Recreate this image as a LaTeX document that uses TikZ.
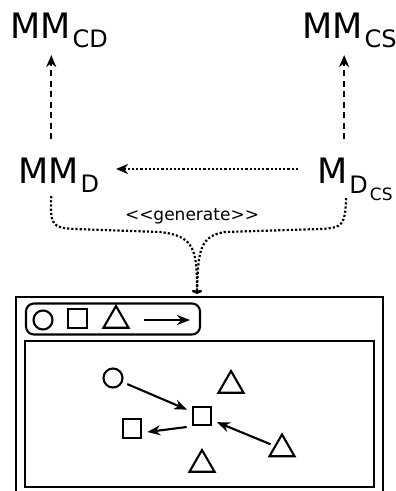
\documentclass[tikz,border=0pt]{standalone}
\usepackage{fontspec}
\setmainfont{DejaVu Sans}
\usetikzlibrary{arrows.meta,shapes.geometric}
\begin{document}
\begin{tikzpicture}[x=1pt,y=-1pt, line width=2.1pt,
  big/.style={inner sep=0pt, anchor=base west, font=\fontsize{35}{42}\selectfont},
  subA/.style={inner sep=0pt, anchor=base west, font=\fontsize{24}{28}\selectfont},
  subB/.style={inner sep=0pt, anchor=base west, font=\fontsize{17}{20}\selectfont},
  dasharrow/.style={line width=2pt, dash pattern=on 6pt off 4.5pt, -{Stealth[length=12pt,width=10pt]}},
  dotline/.style={dash pattern=on 2.2pt off 2pt, line width=2.2pt},
  shp/.style={draw, line width=2.1pt, inner sep=0pt},
  sq/.style={shp, rectangle, minimum size=18.5pt},
  circ/.style={shp, circle, minimum size=19pt},
  tri/.style={shp, regular polygon, regular polygon sides=3, minimum size=29pt},
  arr/.style={line width=2.1pt, -{Stealth[length=13pt,width=10pt]}},
]
\useasboundingbox (0,0) rectangle (396,491);

% labels
\node[big] (mmcd) at (9,38) {MM};
\node[subA] (mmcds) at ([yshift=-9pt]mmcd.base east) {CD};
\node[big] (mmcs) at (301,38) {MM};
\node[subA] (mmcss) at ([yshift=-9pt]mmcs.base east) {CS};
\node[big] (mmd) at (17,183) {MM};
\node[subA] (mmds) at ([yshift=-9pt]mmd.base east) {D};
\node[big] (mdcs) at (316,183) {M};
\node[subA] (mdcsd) at ([yshift=-10pt]mdcs.base east) {D};
\node[subB] (mdcscs) at ([yshift=-7pt]mdcsd.base east) {CS};
\node[font=\fontsize{17}{20}\selectfont, inner sep=0pt] (gen) at (192,216) {<{}<generate>{}>};

% dashed arrows up
\draw[dasharrow] ([xshift=3pt,yshift=17pt]mmd.north) -- ([xshift=3pt,yshift=-16pt]mmd.north |- mmcd.south);
\draw[dasharrow] ([xshift=12pt,yshift=17pt]mdcs.north) -- ([xshift=12pt,yshift=-16pt]mdcs.north |- mmcs.south);

% dotted horizontal
\draw[dotline, -{Stealth[length=12pt,width=10pt]}] ([xshift=-18pt,yshift=14pt]mdcs.base west) -- ([xshift=16pt,yshift=14pt]mmds.east |- mdcs.base west);

% generate curves
\coordinate (tgt) at (197,294);
\coordinate (ls) at ([xshift=3pt,yshift=-12pt]mmd.south);
\coordinate (rs) at ([xshift=14pt,yshift=-14pt]mdcs.south);
\draw[dotline, -{To[length=4pt,width=10pt]}] (ls) .. controls (50,225) and (52,228) .. (75,229) -- (160,232) .. controls (195,236) and (197,250) .. (tgt);
\draw[dotline, -{To[length=4pt,width=10pt]}] (rs) .. controls (345,225) and (343,228) .. (320,229) -- (225,232) .. controls (200,236) and (198,250) .. (tgt);

% window
\draw (16,491) -- (16,297) -- (383,297) -- (383,491);
\node[draw, rounded corners=8pt, minimum width=174pt, minimum height=31pt, inner sep=0pt] (pal) at (113,319) {};
\draw (25,341) rectangle (374,487);

% palette
\node[circ] (pc) at (43,320) {};
\node[sq] (ps) at (77.5,318.5) {};
\node[tri] (pt) at (116,320.5) {};
\coordinate (pa1) at (144,320);
\coordinate (pa2) at (190,320);
\draw[arr] (pa1) -- (pa2);

% canvas
\node[circ] (c1) at (113,378) {};
\node[tri] (t1) at (231,385.5) {};
\node[sq] (s1) at (202,416) {};
\node[sq] (s2) at (132,428.5) {};
\node[tri] (t2) at (282,449) {};
\node[tri] (t3) at (202,464.5) {};
\draw[arr, shorten <=5pt, shorten >=5pt] (c1) -- (s1);
\draw[arr, shorten <=4pt, shorten >=5pt] (t2) -- (s1);
\draw[arr] ([xshift=-5pt,yshift=-11pt]s1.west) -- ([xshift=5pt,yshift=-3.5pt]s2.east);
\end{tikzpicture}
\end{document}
